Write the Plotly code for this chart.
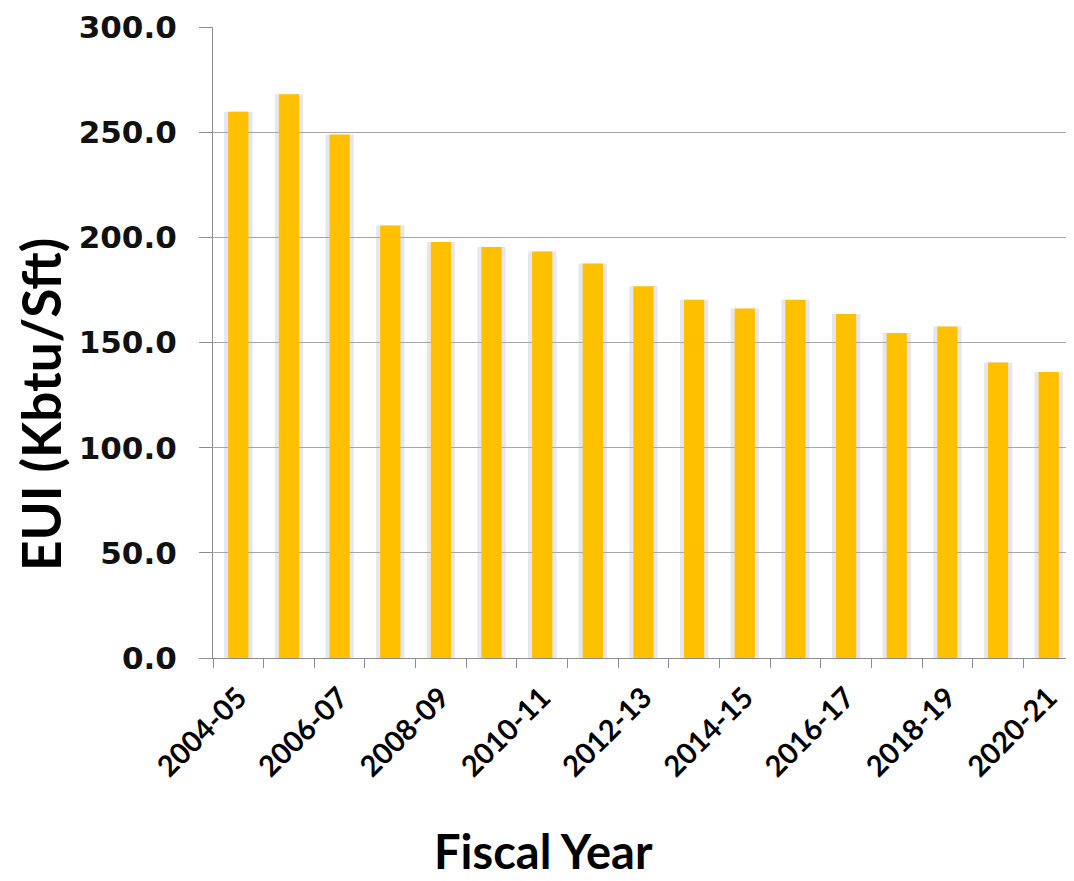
import plotly.graph_objects as go

categories = ["2004-05", "2005-06", "2006-07", "2007-08", "2008-09", "2009-10",
              "2010-11", "2011-12", "2012-13", "2013-14", "2014-15", "2015-16",
              "2016-17", "2017-18", "2018-19", "2019-20", "2020-21"]
eui_values = [259.7, 268.0, 248.9, 205.6, 197.8, 195.4, 193.3, 187.6, 176.7,
              170.3, 166.2, 170.3, 163.5, 154.5, 157.6, 140.5, 136.0]
y_ticks = [0, 50, 100, 150, 200, 250, 300]
x_title = "Fiscal Year"
y_title = "EUI (Kbtu/Sft)"

x_idx = list(range(len(categories)))
shown_idx = x_idx[::2]
shown_text = categories[::2]
boundaries = [i - 0.5 for i in range(len(categories) + 1)]

fig = go.Figure()
# soft shadow behind each bar
fig.add_trace(go.Bar(
    x=x_idx, y=eui_values, width=0.56,
    marker=dict(color="rgba(165,170,195,0.28)", line=dict(width=0)),
    hoverinfo="skip",
))
fig.add_trace(go.Bar(
    x=x_idx, y=eui_values, width=0.40,
    marker=dict(color="#FFC000", line=dict(width=0)),
    hoverinfo="y",
))

fig.update_layout(
    width=1066, height=873,
    paper_bgcolor="white", plot_bgcolor="white",
    margin=dict(l=205, r=0, t=19, b=223),
    showlegend=False,
    barmode="overlay",
)
fig.update_xaxes(
    range=[-0.5, len(categories) - 0.5],
    tickmode="array", tickvals=shown_idx, ticktext=shown_text,
    tickangle=-45, ticks="", ticklabelstandoff=10,
    tickfont=dict(family="Lato", size=29, color="black", weight="bold"),
    showline=True, linecolor="#8c8c8c", linewidth=1,
    showgrid=False, zeroline=False,
    minor=dict(tickmode="array", tickvals=boundaries, ticks="outside",
               ticklen=9, tickcolor="#8c8c8c", showgrid=False),
)
fig.update_yaxes(
    range=[0, 300], tickmode="array", tickvals=y_ticks, tickformat=".1f",
    ticks="outside", ticklen=13, tickcolor="#8c8c8c",
    ticklabelstandoff=16,
    tickfont=dict(family="DejaVu Sans", size=31, color="#111111", weight="bold"),
    showline=True, linecolor="#8c8c8c", linewidth=1,
    showgrid=True, gridcolor="#a6a6a6", gridwidth=1,
    zeroline=False,
)

fig.add_annotation(
    text=y_title, textangle=-90, showarrow=False,
    xref="paper", yref="paper", x=(40 - 213) / 861, y=(658 - 405) / 631,
    xanchor="center", yanchor="middle",
    font=dict(family="Lato", size=53, color="black", weight="bold"),
)
fig.add_annotation(
    text=x_title, showarrow=False,
    xref="paper", yref="paper", x=(543 - 213) / 861, y=(658 - 851) / 631,
    xanchor="center", yanchor="middle",
    font=dict(family="Lato", size=47, color="black", weight="bold"),
)

fig.write_html("out.html")
